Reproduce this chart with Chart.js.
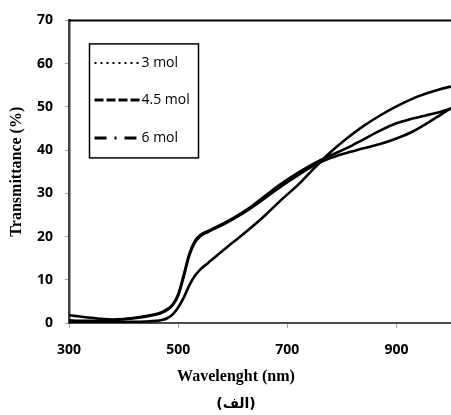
<!DOCTYPE html>
<html>
<head>
<meta charset="utf-8">
<script src="https://cdn.jsdelivr.net/npm/chart.js@4.4.1/dist/chart.umd.min.js"></script>
<style>
  html, body { margin:0; padding:0; background:#fff; }
  #c { display:block; }
</style>
</head>
<body>
<canvas id="c" width="451" height="415"></canvas>
<script>
// wavelength grid (nm)
const wavelengths = [300,320,340,360,380,400,420,440,460,470,480,490,500,510,520,530,540,555,570,600,630,660,690,720,750,780,810,840,870,900,930,960,980,1000];

// transmittance (%)
const mol3  = [1.8,1.5,1.2,0.95,0.8,0.9,1.2,1.6,2.1,2.5,3.2,4.3,6.6,11,15.8,18.8,20.3,21.3,22.2,24.2,26.6,29.5,32.3,34.8,37,38.8,40.5,42.5,44.5,46.2,47.3,48.2,48.8,49.6];
const mol45 = [0.6,0.5,0.5,0.55,0.65,0.85,1.1,1.45,1.95,2.35,3.0,4.1,6.3,10.6,15.4,18.5,20.0,21.1,22.0,24.0,26.3,29.0,31.7,34.2,36.5,38.2,39.4,40.4,41.4,42.7,44.3,46.5,48.1,49.7];
const mol6  = [0.3,0.3,0.3,0.3,0.3,0.3,0.3,0.35,0.5,0.7,1.1,2.0,3.6,5.8,8.6,10.8,12.3,13.9,15.5,18.6,21.7,25,28.6,32,35.9,39.6,42.8,45.6,48,50.1,51.9,53.3,54.1,54.7];

const seriesLabels = ['3 mol', '4.5 mol', '6 mol'];
const xTickValues = [300, 500, 700, 900];

const toPoints = arr => arr.map((v, i) => ({ x: wavelengths[i], y: v }));

// legend sample styles, same order as seriesLabels
const legendStyles = [
  { dash: [2, 4], width: 2 },
  { dash: [9, 3], width: 3 },
  { dash: [12, 8, 2, 8], width: 3 }
];

const frameAndLegend = {
  id: 'frameAndLegend',
  afterDraw(chart) {
    const { ctx, chartArea } = chart;
    ctx.save();
    // top frame line
    ctx.strokeStyle = '#000';
    ctx.lineWidth = 2;
    ctx.beginPath();
    ctx.moveTo(chartArea.left, chartArea.top);
    ctx.lineTo(chartArea.right, chartArea.top);
    ctx.stroke();

    // legend box
    const bx = chartArea.left + 20.5, by = chartArea.top + 23.5;
    ctx.lineWidth = 1.5;
    ctx.strokeRect(bx, by, 109, 114);

    ctx.font = '14px "Open Sans"';
    ctx.fillStyle = '#000';
    ctx.textBaseline = 'middle';
    ctx.textAlign = 'left';
    const rowsY = [63, 100, 138];
    chart.data.datasets.forEach((ds, i) => {
      const y = rowsY[i];
      const st = legendStyles[i];
      ctx.setLineDash(st.dash);
      ctx.lineWidth = st.width;
      ctx.beginPath();
      ctx.moveTo(bx + 5, y);
      ctx.lineTo(bx + 50, y);
      ctx.stroke();
      ctx.setLineDash([]);
      ctx.fillText(ds.label, bx + 52, y);
    });
    ctx.restore();
  }
};

const datasets = [mol3, mol45, mol6].map((arr, i) => ({
  label: seriesLabels[i],
  data: toPoints(arr),
  borderColor: '#000',
  borderWidth: 2.6,
  pointRadius: 0,
  fill: false,
  cubicInterpolationMode: 'monotone'
}));

new Chart(document.getElementById('c'), {
  type: 'line',
  data: { datasets },
  options: {
    responsive: false,
    devicePixelRatio: 1,
    animation: false,
    layout: { padding: { left: 21, right: 0, top: 20, bottom: 0 } },
    plugins: {
      legend: { display: false },
      tooltip: { enabled: false },
      title: {
        display: true,
        position: 'bottom',
        text: '(الف)',
        color: '#000',
        font: { family: '"DejaVu Sans"', weight: 'bold', size: 14 },
        padding: { top: 0, bottom: 2 }
      },
      subtitle: {
        display: true,
        position: 'bottom',
        text: 'Wavelenght (nm)',
        color: '#000',
        font: { family: '"Liberation Serif"', weight: 'bold', size: 16 },
        padding: { top: 0, bottom: 10 }
      }
    },
    scales: {
      x: {
        type: 'linear',
        min: 300,
        max: 1000,
        afterFit: s => { s.height = 44; },
        afterBuildTicks: s => { s.ticks = xTickValues.map(v => ({ value: v })); },
        border: { color: '#4d4d4d', width: 2 },
        grid: { drawOnChartArea: false, drawTicks: true, tickLength: 5, color: '#a6a6a6' },
        ticks: {
          autoSkip: false,
          maxRotation: 0,
          padding: 14,
          color: '#000',
          font: { family: '"Open Sans"', weight: 'bold', size: 14 }
        }
      },
      y: {
        min: 0,
        max: 70,
        afterFit: s => { s.width = 48; },
        border: { color: '#404040', width: 2.5 },
        grid: { drawOnChartArea: false, drawTicks: true, tickLength: 4, color: '#a6a6a6' },
        ticks: {
          stepSize: 10,
          padding: 12,
          color: '#000',
          font: { family: '"Open Sans"', weight: 'bold', size: 14 }
        },
        title: {
          display: true,
          text: 'Transmittance (%)',
          color: '#000',
          font: { family: '"Liberation Serif"', weight: 'bold', size: 16 },
          padding: { top: -14, bottom: 0 }
        }
      }
    }
  },
  plugins: [frameAndLegend]
});
</script>
</body>
</html>
